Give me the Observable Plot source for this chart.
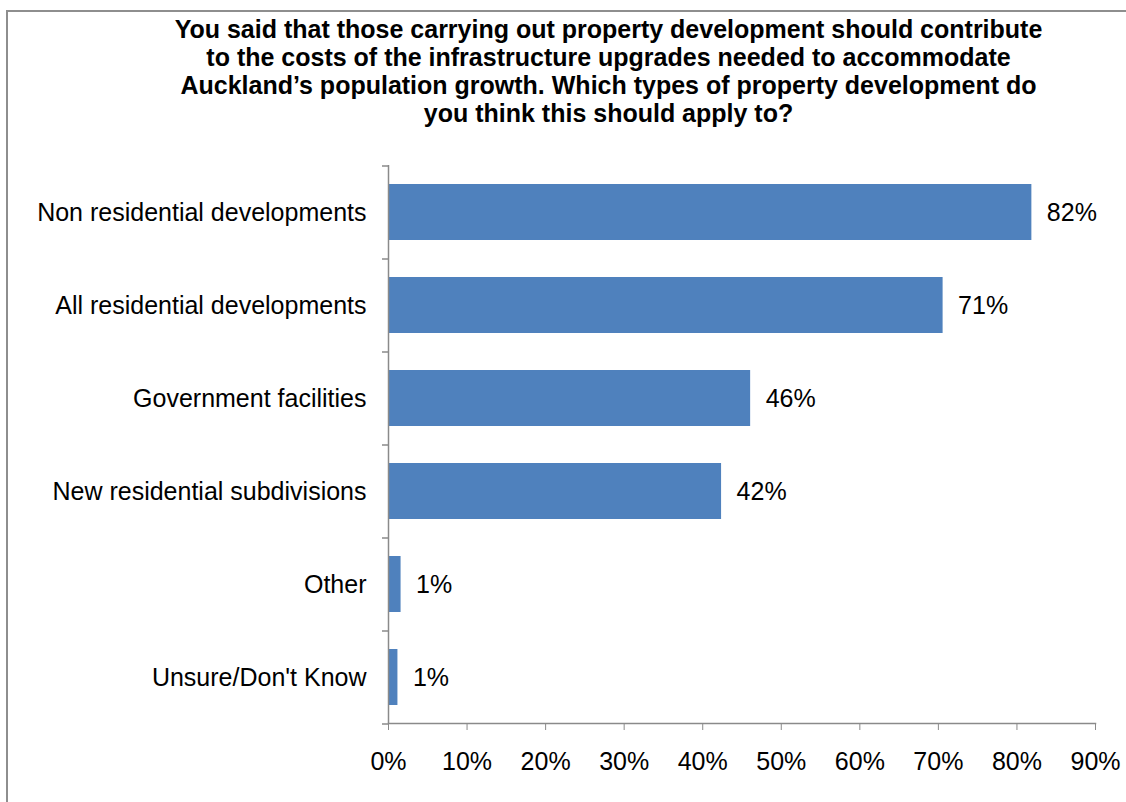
<!DOCTYPE html>
<html>
<head>
<meta charset="utf-8">
<script src="https://cdn.jsdelivr.net/npm/d3@7"></script>
<script src="https://cdn.jsdelivr.net/npm/@observablehq/plot@0.6"></script>
<style>
  html, body { margin: 0; padding: 0; background: #fff; overflow: hidden; }
  #wrap { position: relative; width: 1126px; height: 802px; overflow: hidden; font-family: "Liberation Sans", Arial, sans-serif; }
  #frame { position: absolute; left: 6px; top: 10px; width: 1300px; height: 1000px; border: 2px solid #8e8e8e; box-sizing: border-box; }
  #title { position: relative; box-sizing: border-box; height: 140px; padding-top: 15px; padding-left: 91px; width: 1126px;
           text-align: center; font-weight: bold; font-size: 25px; line-height: 28px; color: #000; }
  #chart svg { display: block; position: relative; }
</style>
</head>
<body>
<div id="wrap">
  <div id="frame"></div>
  <div id="title">You said that those carrying out property development should contribute<br>to the costs of the infrastructure upgrades needed to accommodate<br>Auckland’s population growth. Which types of property development do<br>you think this should apply to?</div>
  <div id="chart"></div>
</div>
<script>
const categories = [
  "Non residential developments",
  "All residential developments",
  "Government facilities",
  "New residential subdivisions",
  "Other",
  "Unsure/Don't Know"
];
const values = [81.9, 70.6, 46.1, 42.4, 1.6, 1.2];
const valueLabels = ["82%", "71%", "46%", "42%", "1%", "1%"];
const xTicks = [0, 10, 20, 30, 40, 50, 60, 70, 80, 90];

const data = categories.map((c, i) => ({category: c, value: values[i], label: valueLabels[i]}));

const FONT = "Liberation Sans, Arial, sans-serif";
const AX = "#8a8a8a";
const W = 1126, H = 662, MT = 25, MB = 79, ML = 388, MR = 31;
const step = (H - MT - MB) / categories.length;

const chart = Plot.plot({
  width: W, height: H,
  marginTop: MT, marginBottom: MB, marginLeft: ML, marginRight: MR,
  style: {fontFamily: FONT, fontSize: "25px", color: "#000", background: "transparent", overflow: "visible"},
  x: {domain: [0, 90]},
  y: {domain: categories, paddingInner: 0.4, paddingOuter: 0.2},
  marks: [
    Plot.barX(data, {x: "value", y: "category", fill: "#4f81bd"}),
    Plot.text(data, {x: "value", y: "category", text: "label", textAnchor: "start", dx: 15, fill: "#000", fontSize: 25}),
    Plot.ruleX([0], {stroke: AX, strokeWidth: 1.5}),
    Plot.frame({anchor: "bottom", stroke: AX, strokeWidth: 1.5}),
    Plot.ruleY(categories, {y: d => d, x1: 0, x2: 0, insetLeft: -6, dy: -step / 2, stroke: AX, strokeWidth: 1.5}),
    Plot.ruleY([categories[categories.length - 1]], {y: d => d, x1: 0, x2: 0, insetLeft: -6, dy: step / 2, stroke: AX, strokeWidth: 1.5}),
    Plot.axisX({ticks: xTicks, tickFormat: d => d + "%", tickSize: 7, tickPadding: 22, stroke: AX, fill: "#000", fontSize: 25, label: null}),
    Plot.axisY({tickSize: 0, tickPadding: 22, fill: "#000", fontSize: 25, label: null})
  ]
});
document.getElementById("chart").appendChild(chart);
</script>
</body>
</html>
